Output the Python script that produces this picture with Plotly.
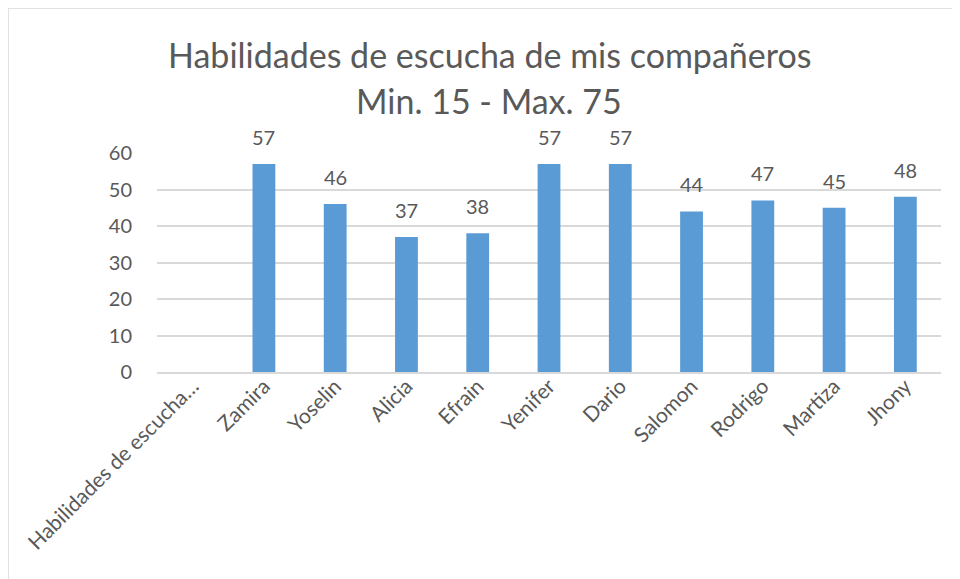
import plotly.graph_objects as go

categories = ["Habilidades de escucha…", "Zamira", "Yoselin", "Alicia", "Efrain",
              "Yenifer", "Dario", "Salomon", "Rodrigo", "Martiza", "Jhony"]
values = [None, 57, 46, 37, 38, 57, 57, 44, 47, 45, 48]
title_lines = ["Habilidades de escucha de mis compañeros", "Min. 15 - Max. 75"]
y_ticks = [0, 10, 20, 30, 40, 50, 60]

OFF = 8  # page body margin
W, H = 960 - OFF, 579 - OFF
# target plot area in window pixels
PL, PR, PT, PB = 157, 941, 153, 372
L, T = PL - OFF, PT - OFF
R = W - (PR - OFF)
B = H - (PB - OFF)
pw, ph = PR - PL, PB - PT

def px_x(p):
    return (p - PL) / pw

def px_y(p):
    return (PB - p) / ph

FONT = "Lato"
GRAY = "#595959"

fig = go.Figure(go.Bar(
    x=categories, y=values,
    marker=dict(color="#5B9BD5", line=dict(width=0)),
    cliponaxis=False,
))

annotations = []
for t, py in zip(title_lines, [55, 100]):
    annotations.append(dict(
        text=t, x=px_x(489), y=px_y(py), xref="paper", yref="paper",
        xanchor="center", yanchor="middle", showarrow=False,
        font=dict(family=FONT, size=34, color=GRAY)))

for c, v in zip(categories, values):
    if v is None:
        continue
    annotations.append(dict(
        text=str(v), x=c, y=v, xref="x", yref="y",
        xanchor="center", yanchor="bottom", yshift=13, showarrow=False,
        font=dict(family=FONT, size=20, color=GRAY)))

fig.update_layout(
    width=W, height=H,
    margin=dict(l=L, r=R, t=T, b=B, pad=0),
    paper_bgcolor="white", plot_bgcolor="white",
    showlegend=False,
    bargap=0.68,
    annotations=annotations,
    shapes=[dict(type="rect", xref="paper", yref="paper",
                 x0=px_x(8), x1=px_x(990), y0=px_y(600), y1=px_y(8),
                 line=dict(color="#d9d9d9", width=1.5), fillcolor="rgba(0,0,0,0)",
                 layer="below")],
    xaxis=dict(
        type="category", tickangle=-45,
        tickfont=dict(family=FONT, size=21, color=GRAY),
        showgrid=False, showline=True, linecolor="#d9d9d9", linewidth=1.5,
        ticks="", ticklen=0, ticklabelstandoff=-8,
    ),
    yaxis=dict(
        range=[0, 60], tickvals=y_ticks,
        tickfont=dict(family=FONT, size=20, color=GRAY),
        showgrid=True, gridcolor="#d9d9d9", gridwidth=1.5,
        zeroline=False, showline=False, ticks="", ticklabelstandoff=24,
    ),
)

fig.write_html("out.html")
